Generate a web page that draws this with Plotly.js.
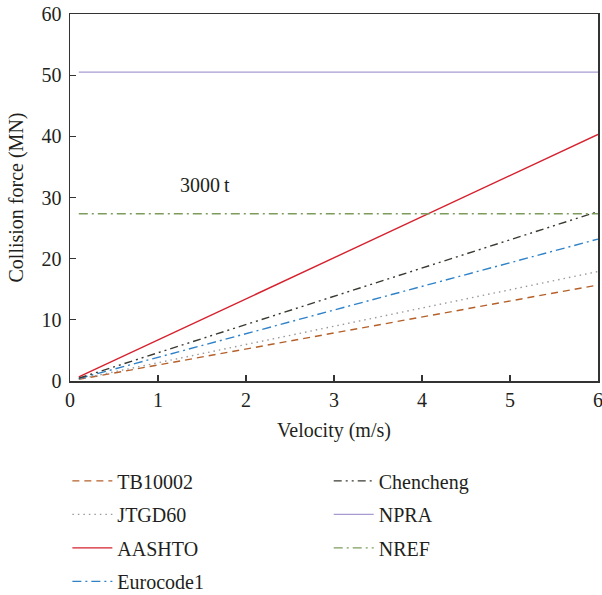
<!DOCTYPE html>
<html>
<head>
<meta charset="utf-8">
<script src="https://cdn.plot.ly/plotly-3.0.1.min.js"></script>
<style>html,body{margin:0;padding:0;background:#fff;}#chart{width:602px;height:595px;}</style>
</head>
<body>
<div id="chart"></div>
<script>
const velocity = [0.1, 1, 2, 3, 4, 5, 6];
const TB10002 = [0.26, 2.62, 5.23, 7.85, 10.47, 13.08, 15.7];
const JTGD60 = [0.30, 2.98, 5.97, 8.95, 11.93, 14.92, 17.9];
const AASHTO = [0.67, 6.72, 13.43, 20.15, 26.87, 33.58, 40.3];
const Eurocode1 = [0.39, 3.87, 7.73, 11.6, 15.47, 19.33, 23.2];
const Chencheng = [0.46, 4.62, 9.23, 13.85, 18.47, 23.08, 27.7];
const NPRA = [50.5, 50.5, 50.5, 50.5, 50.5, 50.5, 50.5];
const NREF = [27.35, 27.35, 27.35, 27.35, 27.35, 27.35, 27.35];

const serif = "Liberation Serif, Times New Roman, serif";
const txt = '#231f20';

function tr(name, y, color, dash, legend, width) {
  return {x: velocity, y: y, name: name, type: 'scatter', mode: 'lines',
    line: {color: color, dash: dash, width: width || 1.4},
    legend: legend, legendgroup: name};
}

const data = [
  tr('TB10002', TB10002, '#b5602a', '7px,5px', 'legend'),
  tr('JTGD60', JTGD60, '#9a9a9a', '1.5px,4px', 'legend'),
  tr('AASHTO', AASHTO, '#d6212e', 'solid', 'legend'),
  tr('Eurocode1', Eurocode1, '#2f82c8', '9px,4px,2px,4px', 'legend'),
  tr('Chencheng', Chencheng, '#3a3a32', '8px,4px,2px,4px,2px,4px', 'legend2'),
  tr('NPRA', NPRA, '#a99bd2', 'solid', 'legend2'),
  tr('NREF', NREF, '#7d9c5c', '9px,4px,2px,4px', 'legend2')
];

const axisCommon = {
  showgrid: false, zeroline: false, showline: true, mirror: true,
  linecolor: '#333', linewidth: 1.5, ticks: 'inside', ticklen: 6,
  tickcolor: '#333', tickwidth: 1.2, ticklabeloverflow: 'allow',
  tickfont: {family: serif, size: 20, color: txt}
};

const legendCommon = {
  font: {family: serif, size: 20, color: txt},
  bgcolor: 'rgba(0,0,0,0)', orientation: 'v',
  xanchor: 'left', yanchor: 'top', tracegroupgap: 4.5, itemwidth: 40
};

const layout = {
  width: 602, height: 595,
  margin: {l: 70, r: 4, t: 14, b: 214, autoexpand: false},
  paper_bgcolor: '#fff', plot_bgcolor: '#fff',
  showlegend: true,
  xaxis: Object.assign({}, axisCommon, {range: [0, 6], dtick: 1,
    title: {text: 'Velocity (m/s)', font: {family: serif, size: 20, color: txt}, standoff: 13}}),
  yaxis: Object.assign({}, axisCommon, {range: [0, 60], dtick: 10, ticklabelstandoff: 3,
    title: {text: 'Collision force (MN)', font: {family: serif, size: 20, color: txt}, standoff: 12}}),
  legend: Object.assign({}, legendCommon, {x: -0.005, y: -0.219}),
  legend2: Object.assign({}, legendCommon, {x: 0.49, y: -0.219}),
  annotations: [{x: 1.53, y: 32.0, xref: 'x', yref: 'y', text: '3000\u2009t', showarrow: false,
    font: {family: serif, size: 20, color: txt}}]
};

Plotly.newPlot('chart', data, layout, {displayModeBar: false, staticPlot: true});
</script>
</body>
</html>
